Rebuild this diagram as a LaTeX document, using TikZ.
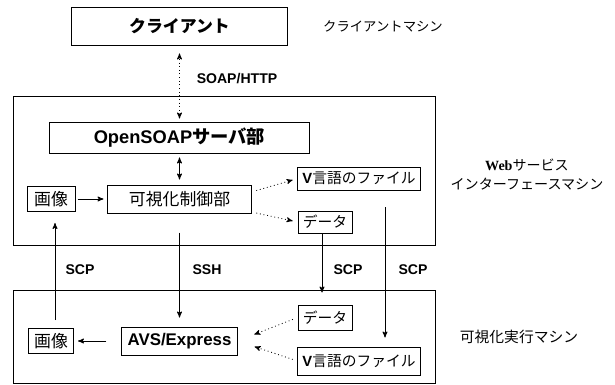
\documentclass[tikz,border=0pt]{standalone}
\usepackage{fontspec}
\setmainfont{Liberation Sans}
\newfontfamily\jp{Noto Sans CJK JP}
\newfontfamily\webfont{Liberation Serif}
\usetikzlibrary{arrows}

\begin{document}
\begin{tikzpicture}[x=0.025cm,y=-0.025cm,>=stealth',line width=0.6pt,
    part node/.style={draw,inner sep=0pt,line width=0.7pt},
    proto label/.style={font=\fontsize{10}{12}\selectfont\bfseries},
    machine label/.style={font=\jp\fontsize{10}{13.5}\selectfont,align=center}]

  \useasboundingbox (0,0) rectangle (615,385);

  % machine frames
  \draw (13,96) rectangle (435,245);
  \draw (13,290) rectangle (435,383);

  % client machine
  \node [part node,minimum width=5.4cm,minimum height=0.925cm,
    font=\jp\fontsize{12}{14}\selectfont\bfseries] (client) at (179.5,26.5) {クライアント};
  \node [machine label,font=\jp\fontsize{9.5}{12}\selectfont] (client_m) at (383,26) {クライアントマシン};

  % web service interface machine
  \node [part node,minimum width=6.5cm,minimum height=0.775cm,
    font=\fontsize{13}{15}\selectfont\bfseries] (soap) at (179.5,137.5) {OpenSOAP{\jp サーバ部}};
  \node [part node,minimum width=3.575cm,minimum height=0.7cm,
    font=\jp\fontsize{12}{14}\selectfont] (ctrl) at (179.5,199) {可視化制御部};
  \node [part node,minimum width=1.2cm,minimum height=0.625cm,
    font=\jp\fontsize{12}{14}\selectfont] (img_up) at (51,199) {画像};
  \node [part node,minimum width=3.05cm,minimum height=0.575cm,
    font=\fontsize{10.5}{12}\selectfont] (vfile_up) at (359,178.5) {\textbf{V}{\jp 言語のファイル}};
  \node [part node,minimum width=1.35cm,minimum height=0.55cm,
    font=\jp\fontsize{10.5}{12}\selectfont] (data_up) at (325,222) {データ};
  \node [machine label] (web_m) at (527,175) {{\webfont\bfseries Web}サービス\\インターフェースマシン};

  % visualization machine
  \node [part node,minimum width=2.875cm,minimum height=0.7cm,
    font=\fontsize{12}{14}\selectfont\bfseries] (avs) at (179.5,341) {AVS/Express};
  \node [part node,minimum width=1.125cm,minimum height=0.625cm,
    font=\jp\fontsize{12}{14}\selectfont] (img_lo) at (51,341) {画像};
  \node [part node,minimum width=1.35cm,minimum height=0.625cm,
    font=\jp\fontsize{10.5}{12}\selectfont] (data_lo) at (325,317.5) {データ};
  \node [part node,minimum width=3.05cm,minimum height=0.7cm,
    font=\fontsize{10.5}{12}\selectfont] (vfile_lo) at (359,361) {\textbf{V}{\jp 言語のファイル}};
  \node [machine label,font=\jp\fontsize{10.5}{12}\selectfont] (exec_m) at (519,337) {可視化実行マシン};

  % protocol labels
  \node [proto label] (soap_l) at (237,79) {SOAP/HTTP};
  \node [proto label] (scp_a) at (80,270) {SCP};
  \node [proto label] (ssh_l) at (207,270) {SSH};
  \node [proto label] (scp_b) at (348,270) {SCP};
  \node [proto label] (scp_c) at (413,270) {SCP};

  % connectors
  \draw[<->,dotted,shorten <=0.2cm,shorten >=0.075cm] (client.south) -- (soap.north);
  \draw[<->,shorten <=0.1cm,shorten >=0.125cm] (soap.south) -- (ctrl.north);
  \draw[->,shorten <=0.05cm,shorten >=0.1cm] (img_up.east) -- (ctrl.west);
  \draw[->,dotted,shorten <=0.125cm,shorten >=0.125cm] ([yshift=0.175cm]ctrl.east) -- (vfile_up.west);
  \draw[->,dotted,shorten <=0.125cm,shorten >=0.125cm] ([yshift=-0.325cm]ctrl.east) -- (data_up.west);
  \draw[->,shorten <=0.2cm,shorten >=0.275cm] ([xshift=0.1cm]img_lo.north) -- ([xshift=0.1cm]img_up.south);
  \draw[->,shorten <=0.475cm,shorten >=0.225cm] (ctrl.south) -- (avs.north);
  \draw[->,shorten >=0.3cm] ([xshift=-0.075cm]data_up.south) -- ([xshift=-0.075cm]data_lo.north);
  \draw[->,shorten <=0.425cm,shorten >=0.225cm] ([xshift=0.65cm]vfile_up.south) -- ([xshift=0.65cm]vfile_lo.north);
  \draw[->,shorten <=0.375cm,shorten >=0.1cm] (avs.west) -- (img_lo.east);
  \draw[->,dotted,shorten <=0.125cm,shorten >=0.45cm] (data_lo.west) -- (avs.east);
  \draw[->,dotted,shorten <=0.125cm,shorten >=0.45cm] (vfile_lo.west) -- (avs.east);

\end{tikzpicture}
\end{document}
